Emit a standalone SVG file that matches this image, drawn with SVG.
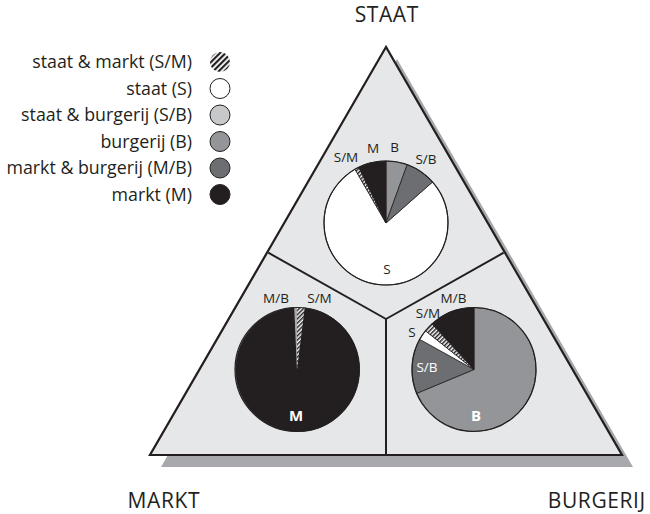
<svg xmlns="http://www.w3.org/2000/svg" width="650" height="514" viewBox="0 0 650 514">
  <style>
    text { font-family: "Open Sans", "Noto Sans", "DejaVu Sans", sans-serif; fill: #231f20; }
    .leg { font-size: 17.8px; text-anchor: end; }
    .corner { font-size: 21px; letter-spacing: 0.6px; text-anchor: middle; }
    .lbl { font-size: 13.5px; text-anchor: middle; }
    .big { font-size: 15px; font-weight: bold; text-anchor: middle; fill: #ffffff; }
    .wht { fill: #ffffff; }
    .sl { stroke: #231f20; stroke-width: 0.8; stroke-linejoin: round; }
    .ring { fill: none; stroke: #231f20; stroke-width: 1.2; }
    .div { stroke: #231f20; stroke-width: 2; fill: none; }
    .cS { fill: #ffffff; }
    .cSB { fill: #c7c8ca; }
    .cB { fill: #939598; }
    .cMB { fill: #6d6e71; }
    .cM { fill: #231f20; }
    .cSM { fill: url(#hatch); }
  </style>
  <defs>
    <pattern id="hatch" patternUnits="userSpaceOnUse" width="3" height="3" patternTransform="rotate(45)">
      <rect width="3" height="3" fill="#ffffff"/>
      <rect width="1.5" height="3" fill="#231f20"/>
    </pattern>
    <pattern id="hatchLegend" patternUnits="userSpaceOnUse" width="4" height="4" patternTransform="rotate(45)">
      <rect width="4" height="4" fill="#ffffff"/>
      <rect width="2.2" height="4" fill="#231f20"/>
    </pattern>
  </defs>

  <!-- legend -->
  <g id="legend">
    <text class="leg" x="192" y="68">staat &amp; markt (S/M)</text>
    <circle cx="220" cy="62" r="10" fill="url(#hatchLegend)"/>
    <text class="leg" x="192" y="94.5">staat (S)</text>
    <circle cx="220" cy="88.5" r="10" class="cS" stroke="#231f20" stroke-width="1"/>
    <text class="leg" x="192" y="121">staat &amp; burgerij (S/B)</text>
    <circle cx="220" cy="115" r="10" class="cSB" stroke="#231f20" stroke-width="1"/>
    <text class="leg" x="192" y="147.5">burgerij (B)</text>
    <circle cx="220" cy="141.5" r="10" class="cB" stroke="#231f20" stroke-width="1"/>
    <text class="leg" x="192" y="174">markt &amp; burgerij (M/B)</text>
    <circle cx="220" cy="168" r="10" class="cMB" stroke="#231f20" stroke-width="1"/>
    <text class="leg" x="192" y="200.5">markt (M)</text>
    <circle cx="220" cy="194.5" r="10" class="cM" stroke="#231f20" stroke-width="1"/>
  </g>

  <!-- triangle with drop shadow -->
  <g id="triangle">
    <polygon points="397,59 161,467 633,467" fill="#a7a9ac"/>
    <polygon points="386,47 150,455 622,455" fill="#e6e7e8" stroke="#231f20" stroke-width="2.2" stroke-linejoin="miter"/>
  </g>

  <!-- dividers between the three zones -->
  <g id="connectors">
    <line class="div" x1="268.3" y1="252.7" x2="386" y2="319"/>
    <line class="div" x1="503.7" y1="252.7" x2="386" y2="319"/>
    <line class="div" x1="386" y1="319" x2="386" y2="455"/>
  </g>

  <!-- corner labels -->
  <g id="label-staat"><text class="corner" x="386.8" y="22">STAAT</text></g>
  <g id="label-markt"><text class="corner" x="163.8" y="508">MARKT</text></g>
  <g id="label-burgerij"><text class="corner" x="596.8" y="508">BURGERIJ</text></g>

  <!-- pie: staat -->
  <g id="pie-staat">
    <path class="sl cS" d="M386,223 L432.5,182 A62,62 0 1 1 355,169.3 Z"/>
    <path class="sl cB" d="M386,223 L386,161 A62,62 0 0 1 407.2,164.7 Z"/>
    <path class="sl cMB" d="M386,223 L407.2,164.7 A62,62 0 0 1 432.5,182 Z"/>
    <path class="sl cSM" d="M386,223 L355,169.3 A62,62 0 0 1 358.8,167.3 Z"/>
    <path class="sl cM" d="M386,223 L358.8,167.3 A62,62 0 0 1 386,161 Z"/>
    <circle class="ring" cx="386" cy="223" r="62"/>
    <text class="lbl" x="346" y="162">S/M</text>
    <text class="lbl" x="373" y="153">M</text>
    <text class="lbl" x="394.5" y="152">B</text>
    <text class="lbl" x="426" y="164">S/B</text>
    <text class="lbl" x="387" y="274">S</text>
  </g>

  <!-- pie: markt -->
  <g id="pie-markt">
    <path class="sl cM" d="M297,369.5 L304.6,307.9 A62,62 0 1 1 294.3,307.6 Z"/>
    <path class="cSM" d="M297,369.5 L297,307.5 A62,62 0 0 1 304.6,307.9 Z"/>
    <path fill="#a7a9ac" d="M297,369.5 L294.3,307.6 A62,62 0 0 1 297,307.5 Z"/>
    <circle class="ring" cx="297" cy="369.5" r="62"/>
    <text class="lbl" x="276" y="303">M/B</text>
    <text class="lbl" x="319.5" y="302.5">S/M</text>
    <text class="big" x="296" y="420.5">M</text>
  </g>

  <!-- pie: burgerij -->
  <g id="pie-burgerij">
    <path class="sl cB" d="M474,369.5 L474,307.5 A62,62 0 1 1 416.8,393.3 Z"/>
    <path class="sl cMB" d="M474,369.5 L416.8,393.3 A62,62 0 0 1 419.8,339.4 Z"/>
    <path class="sl cS" d="M474,369.5 L419.8,339.4 A62,62 0 0 1 425.5,330.8 Z"/>
    <path class="sl cSM" d="M474,369.5 L425.5,330.8 A62,62 0 0 1 432.1,323.8 Z"/>
    <path class="sl cM" d="M474,369.5 L432.1,323.8 A62,62 0 0 1 474,307.5 Z"/>
    <circle class="ring" cx="474" cy="369.5" r="62"/>
    <text class="lbl" x="453.5" y="303">M/B</text>
    <text class="lbl" x="428" y="317.5">S/M</text>
    <text class="lbl" x="412" y="336.5">S</text>
    <text class="lbl wht" x="427" y="372">S/B</text>
    <text class="big" x="476" y="420.5">B</text>
  </g>
</svg>
